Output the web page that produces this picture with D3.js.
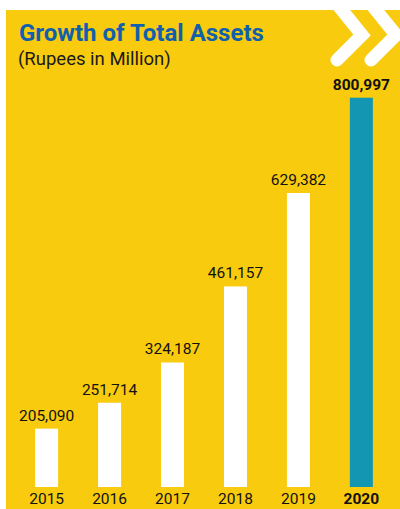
<!DOCTYPE html>
<html>
<head>
<meta charset="utf-8">
<script src="https://cdn.jsdelivr.net/npm/d3@7"></script>
<style>
  html, body { margin: 0; padding: 0; background: #ffffff; }
  svg { display: block; }
  text { font-family: Roboto, "Noto Sans", sans-serif; }
</style>
</head>
<body>
<svg id="chart" width="400" height="509"></svg>
<script>
// Total assets by year (Rupees in Million)
const years = ["2015", "2016", "2017", "2018", "2019", "2020"];
const assets = [205090, 251714, 324187, 461157, 629382, 800997];
const highlightYear = "2020";

const W = 400, H = 509;
const svg = d3.select("#chart");

const yellow = "#F8CB0F";
const teal = "#1396B1";
const titleBlue = "#1160AC";

// Panel background
svg.append("rect")
  .attr("x", 6).attr("y", 10)
  .attr("width", W - 6).attr("height", H - 10)
  .attr("fill", yellow);

// Decorative double chevron, clipped to the panel
svg.append("clipPath").attr("id", "panelClip")
  .append("rect").attr("x", 6).attr("y", 10).attr("width", W - 6).attr("height", H - 10);
const chev = svg.append("g").attr("clip-path", "url(#panelClip)");
[0, 34].forEach(dx => {
  chev.append("path")
    .attr("d", `M${337 + dx},4 L${362 + dx},35 L${337 + dx},60`)
    .attr("fill", "none")
    .attr("stroke", "#ffffff")
    .attr("stroke-width", 13)
    .attr("stroke-linecap", "round")
    .attr("stroke-linejoin", "miter");
});

// Title
svg.append("text")
  .attr("x", 19).attr("y", 41)
  .attr("font-size", 24).attr("font-weight", 700)
  .attr("fill", titleBlue)
  .text("Growth of Total Assets");
svg.append("text")
  .attr("x", 18).attr("y", 65)
  .attr("font-size", 18.5)
  .attr("fill", "#1a1a1a")
  .text("(Rupees in Million)");

// Scales
const x = d3.scaleBand()
  .domain(years)
  .range([15, 393])
  .paddingInner(0.635)
  .paddingOuter(0.32);

const y = d3.scaleLinear()
  .domain([100000, 800997])
  .range([487, 97.7]);

// Bars
svg.append("g").selectAll("rect")
  .data(years)
  .join("rect")
  .attr("x", d => x(d))
  .attr("y", (d, i) => y(assets[i]))
  .attr("width", x.bandwidth())
  .attr("height", (d, i) => y.range()[0] - y(assets[i]))
  .attr("fill", d => d === highlightYear ? teal : "#ffffff");

// Value labels
const fmt = d3.format(",");
svg.append("g").selectAll("text")
  .data(years)
  .join("text")
  .attr("x", d => x(d) + x.bandwidth() / 2)
  .attr("y", (d, i) => y(assets[i]) - 8)
  .attr("text-anchor", "middle")
  .attr("font-size", 15.5)
  .attr("font-weight", d => d === highlightYear ? 700 : 400)
  .attr("fill", "#111111")
  .text((d, i) => fmt(assets[i]));

// Year axis labels
const xAxis = d3.axisBottom(x).tickSize(0).tickPadding(0);
const gx = svg.append("g").attr("transform", "translate(0,493)").call(xAxis);
gx.select(".domain").remove();
gx.selectAll(".tick text")
  .attr("dy", "0.71em")
  .attr("y", 0)
  .attr("font-size", 15.5)
  .attr("font-family", "Roboto, 'Noto Sans', sans-serif")
  .attr("font-weight", d => d === highlightYear ? 700 : 400)
  .attr("fill", "#111111");
</script>
</body>
</html>
